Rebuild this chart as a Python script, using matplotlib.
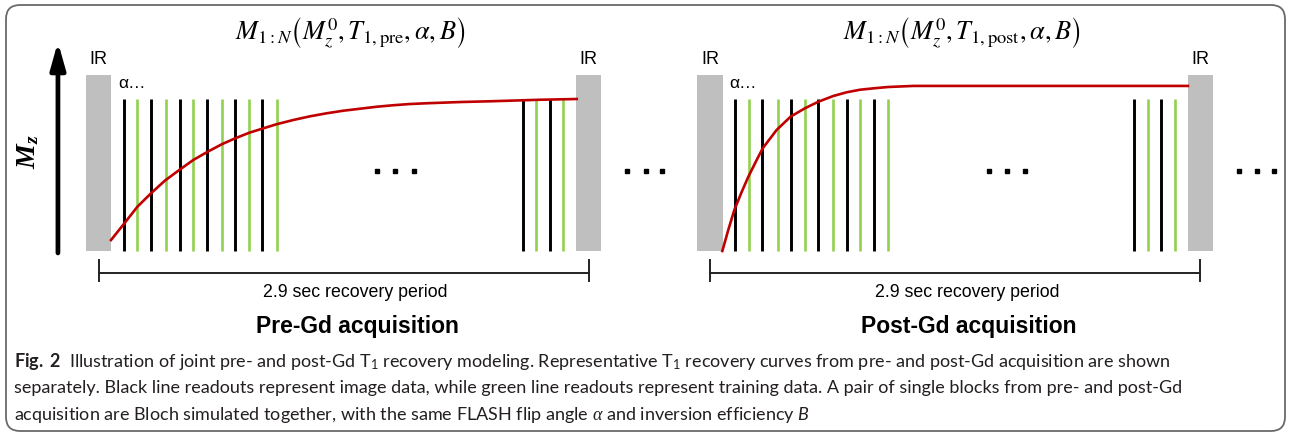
import matplotlib
matplotlib.use("Agg")
import matplotlib.pyplot as plt
from matplotlib.patches import FancyBboxPatch

# readout times in seconds after the IR pulse (same for both blocks)
early_readouts = [0.15, 0.23, 0.31, 0.40, 0.48, 0.56, 0.64, 0.73, 0.81, 0.89, 0.97, 1.055]
late_readouts = [2.51, 2.59, 2.67, 2.75]
readout_kind = ["image", "training"]  # alternating, starting with image data
recovery_period = 2.9  # sec between IR pulses

# pre-Gd T1 recovery curve (time in sec, normalised Mz)
pre_t = [0.074, 0.153, 0.230, 0.311, 0.393, 0.478, 0.561, 0.646, 0.729, 0.808,
         0.892, 0.975, 1.054, 1.153, 1.251, 1.350, 1.449, 1.547, 1.646, 1.744,
         1.843, 1.942, 2.040, 2.139, 2.317, 2.612, 2.830]
pre_mz = [0.072, 0.182, 0.291, 0.380, 0.463, 0.533, 0.599, 0.653, 0.702, 0.741,
          0.778, 0.807, 0.834, 0.862, 0.886, 0.906, 0.923, 0.936, 0.949, 0.959,
          0.967, 0.972, 0.976, 0.980, 0.985, 0.995, 1.000]

# post-Gd T1 recovery curve
post_t = [0.073, 0.108, 0.144, 0.188, 0.227, 0.270, 0.312, 0.394, 0.477, 0.562,
          0.641, 0.730, 0.808, 0.888, 0.966, 1.054, 1.203, 2.828]
post_mz = [0.0, 0.138, 0.270, 0.390, 0.489, 0.585, 0.676, 0.796, 0.884, 0.939,
           0.982, 1.020, 1.044, 1.061, 1.070, 1.079, 1.086, 1.086]

formulas = [r"$M_{1:N}\left(M_z^0, T_{1,\mathrm{pre}}, \alpha, B\right)$",
            r"$M_{1:N}\left(M_z^0, T_{1,\mathrm{post}}, \alpha, B\right)$"]
block_names = ["Pre-Gd acquisition", "Post-Gd acquisition"]
period_label = "2.9 sec recovery period"

caption = [
    r"$\mathbf{Fig.\ 2}$  Illustration of joint pre- and post-Gd T$_1$ recovery modeling. "
    r"Representative T$_1$ recovery curves from pre- and post-Gd acquisition are shown",
    "separately. Black line readouts represent image data, while green line readouts "
    "represent training data. A pair of single blocks from pre- and post-Gd",
    r"acquisition are Bloch simulated together, with the same FLASH flip angle $\alpha$ "
    r"and inversion efficiency $\mathsf{B}$",
]

colors = {"image": "#000000", "training": "#92d050"}
IR_GREY = "#bfbfbf"
RED = "#c00000"

plt.rcParams["mathtext.bf"] = "Lato:bold"
plt.rcParams["mathtext.rm"] = "Lato"
plt.rcParams["mathtext.sf"] = "Lato:italic"
plt.rcParams["mathtext.it"] = "Liberation Serif:italic"

W, H = 1290, 437
fig = plt.figure(figsize=(W / 100, H / 100), dpi=100)

# layout of the panel axes in pixels
PX_PER_S = 169.0
PX_PER_MZ = 152.0
MZ0_PX = 251.0
XLIM = (-0.35, 3.1)
YLIM = (-0.1, 1.45)


def panel_axes(t0_px):
    left = t0_px + XLIM[0] * PX_PER_S
    width = (XLIM[1] - XLIM[0]) * PX_PER_S
    bottom_px = MZ0_PX - YLIM[0] * PX_PER_MZ
    top_px = MZ0_PX - YLIM[1] * PX_PER_MZ
    ax = fig.add_axes([left / W, 1 - bottom_px / H, width / W, (bottom_px - top_px) / H])
    ax.set_xlim(XLIM)
    ax.set_ylim(YLIM)
    ax.axis("off")
    return ax


def draw_block(ax, t, mz, formula, name):
    # IR pulses
    ax.bar([0, recovery_period], [1.158, 1.158], width=0.148, color=IR_GREY, zorder=1)
    for x in [0, recovery_period]:
        ax.text(x, 1.263, "IR", ha="center", va="center", fontsize=13,
                family="Liberation Sans")
    ax.text(0.115, 1.10, "α…", ha="left", va="center", fontsize=12.5,
            family="Liberation Sans")

    # readouts
    for i, x in enumerate(early_readouts + late_readouts):
        kind = readout_kind[i % 2]
        ax.vlines(x, 0, 1, color=colors[kind], lw=2.1 if kind == "image" else 1.9, zorder=2)

    # recovery curve
    ax.plot(t, mz, color=RED, lw=1.9, zorder=3, solid_joinstyle="round")

    # ellipses
    ax.plot([1.65, 1.757, 1.864], [0.526] * 3, "s", color="black", ms=3.4, clip_on=False)
    ax.plot([3.13, 3.237, 3.337], [0.526] * 3, "s", color="black", ms=3.4, clip_on=False)

    # bracket for recovery period
    ax.plot([0, recovery_period], [-0.145, -0.145], color="#222222", lw=1.4, clip_on=False)
    for x in [0, recovery_period]:
        ax.plot([x, x], [-0.06, -0.197], color="#222222", lw=1.4, clip_on=False)
    ax.text(1.52, -0.27, period_label, ha="center", va="center", fontsize=12.8,
            family="Liberation Sans")

    ax.text(1.49, 1.434, formula, ha="center", va="center", fontsize=19,
            math_fontfamily="stix")
    ax.text(1.53, -0.50, name, ha="center", va="center", fontsize=16.5,
            weight="bold", family="Liberation Sans")


ax_pre = panel_axes(98.5)
ax_post = panel_axes(710.0)
draw_block(ax_pre, pre_t, pre_mz, formulas[0], block_names[0])
draw_block(ax_post, post_t, post_mz, formulas[1], block_names[1])

# Mz axis arrow
ax_pre.annotate("", xy=(-0.24, 1.375), xytext=(-0.24, -0.013),
                arrowprops=dict(arrowstyle="-|>,head_length=1.6,head_width=0.45",
                                lw=3.4, color="black", shrinkA=0, shrinkB=0))
ax_pre.text(-0.417, 0.651, r"$\mathregular{M_z}$", rotation=90, ha="center", va="center",
            fontsize=20, weight="bold", style="italic", family="Liberation Serif")

# caption + frame on a full-figure overlay
cap = fig.add_axes([0, 0, 1, 1], zorder=-1)
cap.set_xlim(0, W)
cap.set_ylim(H, 0)
cap.axis("off")
cap.add_patch(FancyBboxPatch((6, 5), 1279, 426, boxstyle="round,pad=0,rounding_size=14",
                             fc="none", ec="#6a6a6a", lw=1.3))
for i, line in enumerate(caption):
    cap.text(14, 367 + 26.5 * i, line, ha="left", va="baseline", fontsize=13,
             family="Lato", color="#231f20", math_fontfamily="custom")

fig.savefig("out.png", dpi=100)
